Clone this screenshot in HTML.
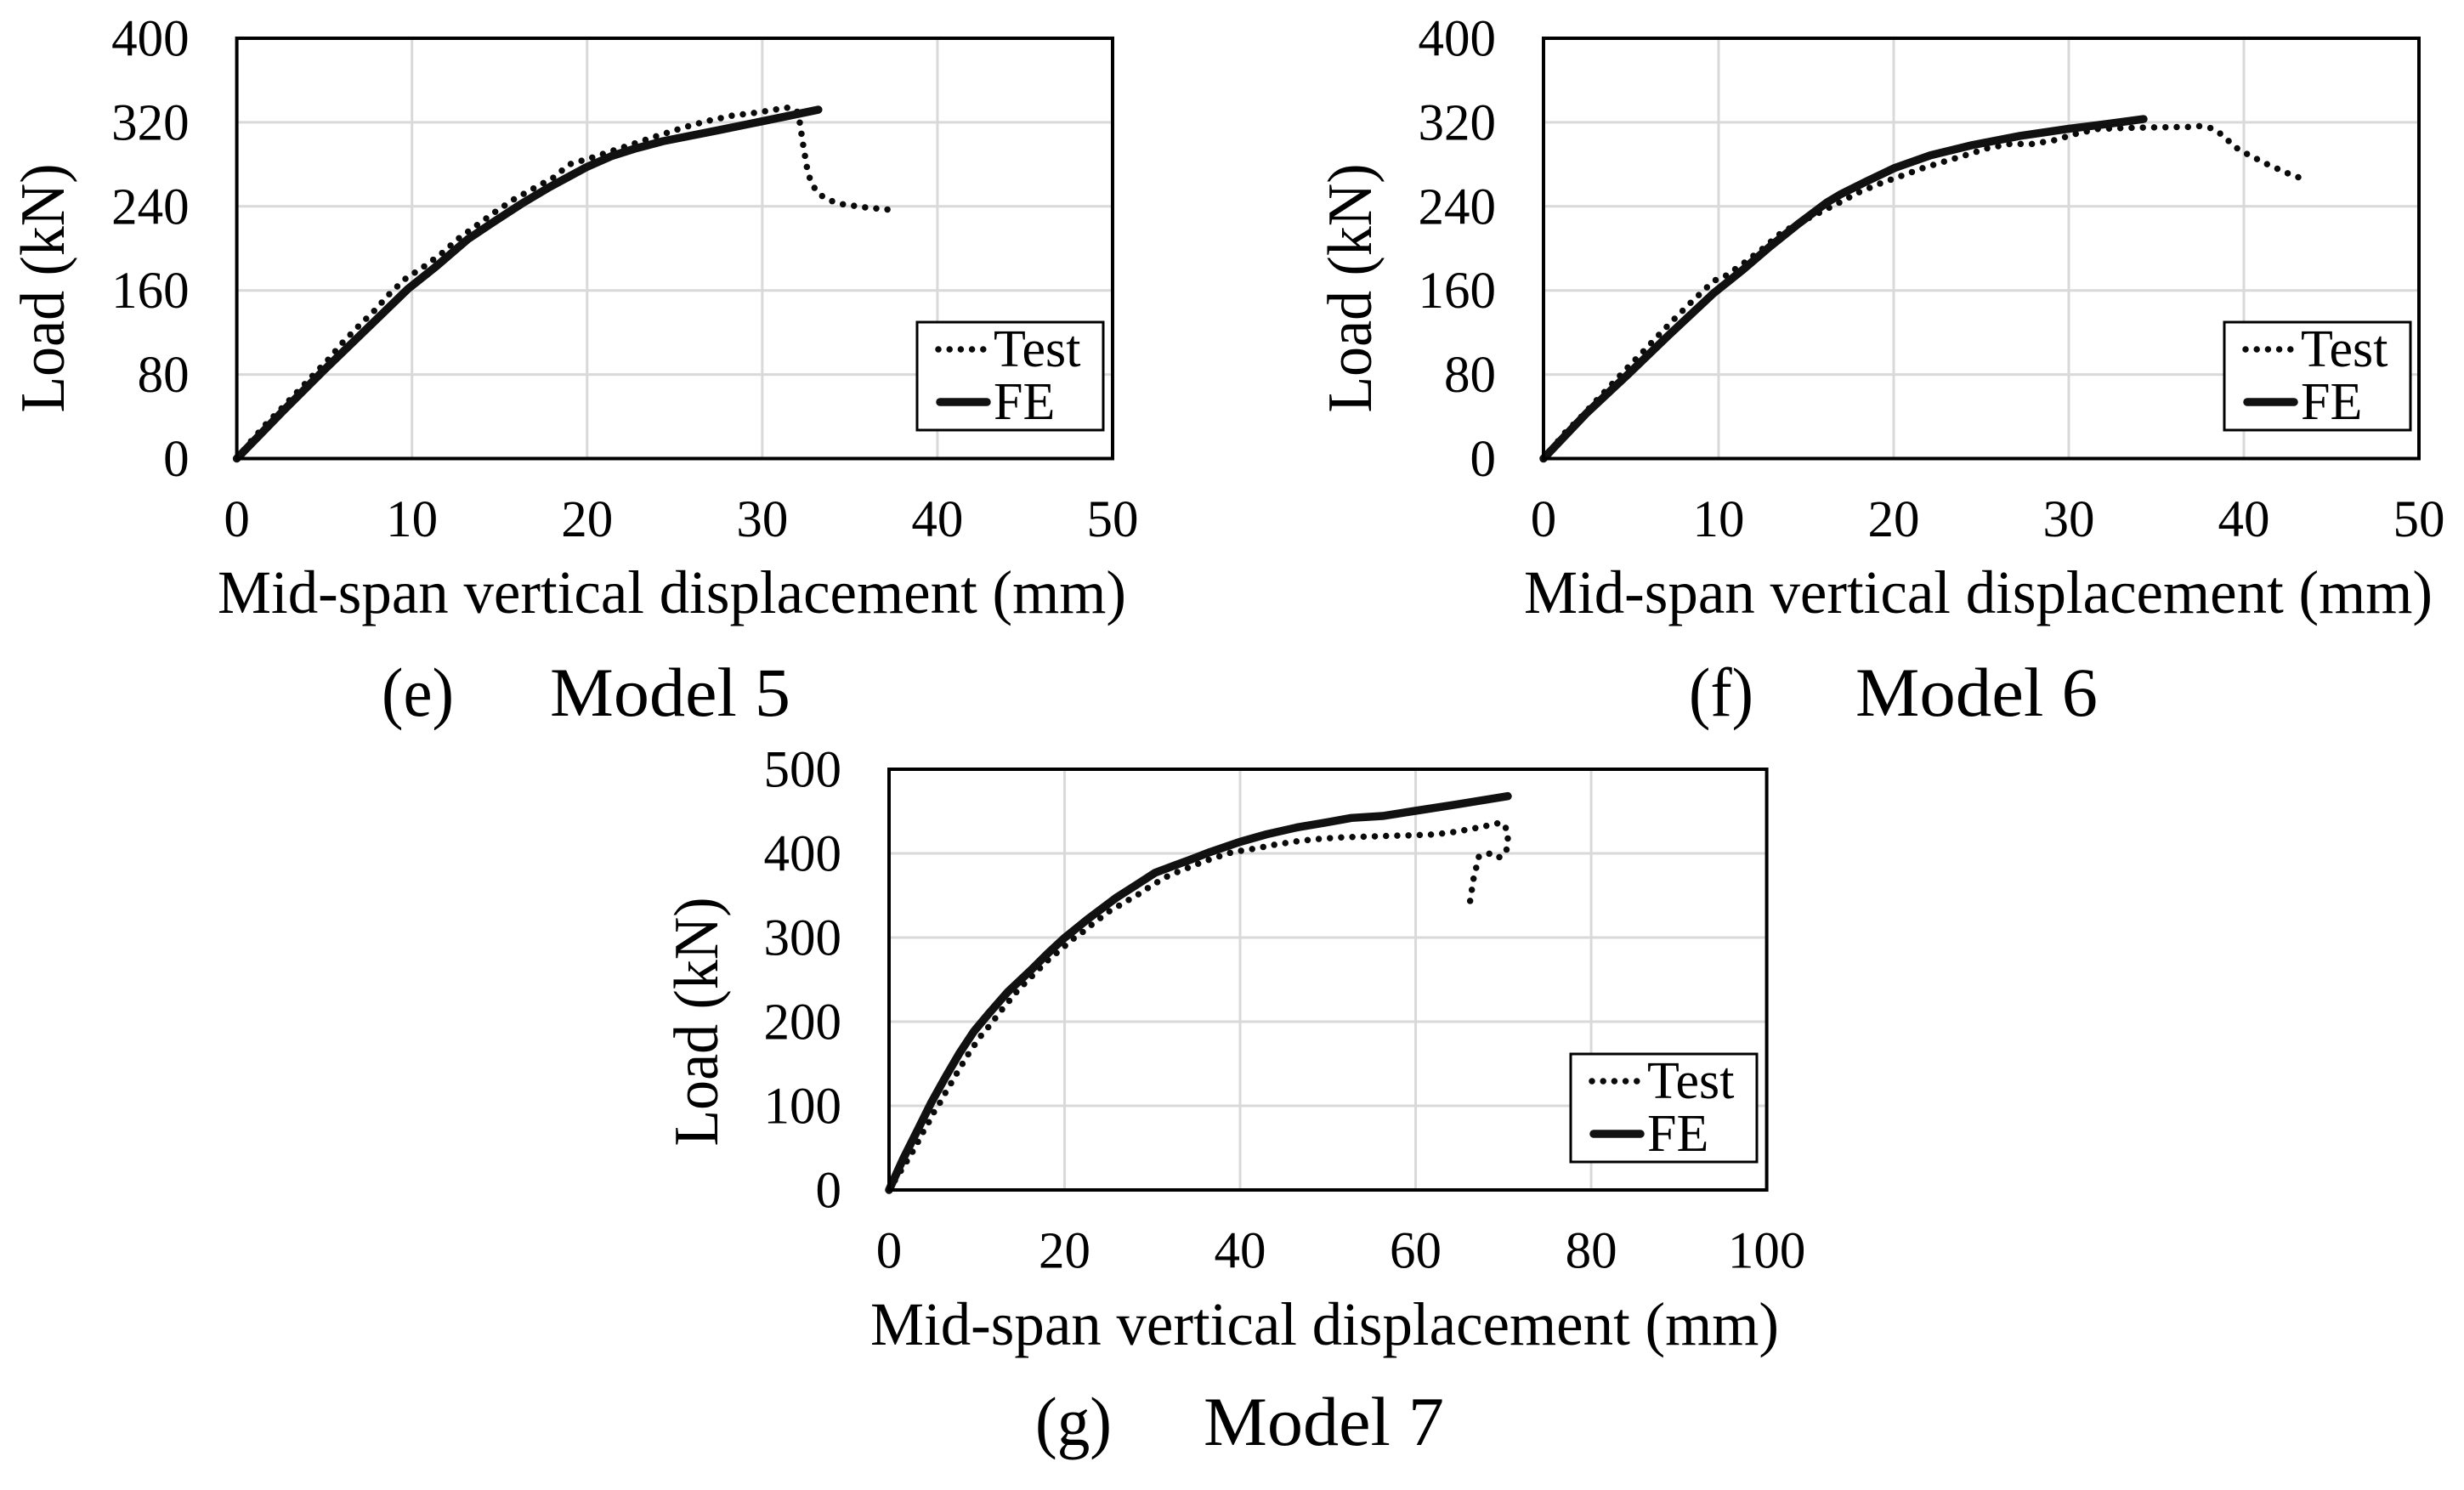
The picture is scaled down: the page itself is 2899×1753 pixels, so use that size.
<!DOCTYPE html>
<html lang="en">
<head>
<meta charset="utf-8">
<title>Load-displacement charts, Models 5 to 7</title>
<style>
html,body{margin:0;padding:0;background:#fff;}
svg{display:block;}
text{font-family:"Liberation Serif",serif;fill:#000;}
.tick{font-size:61px;}
.axis-x{font-size:72px;}
.axis-y{font-size:74px;text-anchor:middle;}
.legend-text{font-size:62px;}
.caption{font-size:82px;}
.frame{fill:none;stroke:#000;stroke-width:4;}
.legend-box{fill:#fff;stroke:#000;stroke-width:3;}
.test{fill:none;stroke:#0a0a0a;stroke-width:7.5;stroke-linecap:round;stroke-linejoin:round;stroke-dasharray:0 13.2;}
.fe{fill:none;stroke:#111;stroke-width:9.5;stroke-linecap:round;stroke-linejoin:round;}
.grid{stroke:#d9d9d9;stroke-width:3;}
</style>
</head>
<body>
<svg xmlns="http://www.w3.org/2000/svg" width="2899" height="1753" viewBox="0 0 2899 1753">

<g>
  <g id="m5-grid"></g>
  <g id="m5-series"></g>
  <rect class="frame" x="278.6" y="45" width="1030.4" height="494.5"/>
  <g id="m5-ticks"></g>
  <text class="axis-y" transform="translate(75,339) rotate(-90)" textLength="293" lengthAdjust="spacingAndGlyphs">Load (kN)</text>
  <text class="axis-x" x="256" y="721" textLength="1069" lengthAdjust="spacingAndGlyphs">Mid-span vertical displacement (mm)</text>
  <g>
    <rect class="legend-box" x="1079" y="379" width="219" height="127"/>
    <line class="test" x1="1104" y1="411" x2="1163" y2="411"/>
    <text class="legend-text" x="1169" y="431">Test</text>
    <line class="fe" x1="1106" y1="473" x2="1161" y2="473"/>
    <text class="legend-text" x="1169" y="493">FE</text>
  </g>
  <text class="caption" x="449" y="842" textLength="85" lengthAdjust="spacingAndGlyphs">(e)</text>
  <text class="caption" x="647" y="842" textLength="283" lengthAdjust="spacingAndGlyphs">Model 5</text>
</g>

<g>
  <g id="m6-grid"></g>
  <g id="m6-series"></g>
  <rect class="frame" x="1816" y="45" width="1030" height="494.5"/>
  <g id="m6-ticks"></g>
  <text class="axis-y" transform="translate(1613,339) rotate(-90)" textLength="293" lengthAdjust="spacingAndGlyphs">Load (kN)</text>
  <text class="axis-x" x="1793" y="721" textLength="1069" lengthAdjust="spacingAndGlyphs">Mid-span vertical displacement (mm)</text>
  <g>
    <rect class="legend-box" x="2617" y="379" width="219" height="127"/>
    <line class="test" x1="2642" y1="411" x2="2701" y2="411"/>
    <text class="legend-text" x="2707" y="431">Test</text>
    <line class="fe" x1="2644" y1="473" x2="2699" y2="473"/>
    <text class="legend-text" x="2707" y="493">FE</text>
  </g>
  <text class="caption" x="1987" y="842" textLength="76" lengthAdjust="spacingAndGlyphs">(f)</text>
  <text class="caption" x="2183" y="842" textLength="285" lengthAdjust="spacingAndGlyphs">Model 6</text>
</g>

<g>
  <g id="m7-grid"></g>
  <g id="m7-series"></g>
  <rect class="frame" x="1046" y="905" width="1032.6" height="495"/>
  <g id="m7-ticks"></g>
  <text class="axis-y" transform="translate(844,1202) rotate(-90)" textLength="293" lengthAdjust="spacingAndGlyphs">Load (kN)</text>
  <text class="axis-x" x="1024" y="1582" textLength="1069" lengthAdjust="spacingAndGlyphs">Mid-span vertical displacement (mm)</text>
  <g>
    <rect class="legend-box" x="1848" y="1240" width="219" height="127"/>
    <line class="test" x1="1873" y1="1272" x2="1932" y2="1272"/>
    <text class="legend-text" x="1938" y="1292">Test</text>
    <line class="fe" x1="1875" y1="1334" x2="1930" y2="1334"/>
    <text class="legend-text" x="1938" y="1354">FE</text>
  </g>
  <text class="caption" x="1218" y="1700" textLength="90" lengthAdjust="spacingAndGlyphs">(g)</text>
  <text class="caption" x="1416" y="1700" textLength="283" lengthAdjust="spacingAndGlyphs">Model 7</text>
</g>
</svg>

<script>
const m5XTicks = [0, 10, 20, 30, 40, 50];
const m5YTicks = [0, 80, 160, 240, 320, 400];
const m5TestX = [0, 0.8, 1.65, 2.57, 3.43, 4.3, 5.21, 6.02, 6.92, 7.83, 8.68, 9.6, 10.66, 11.68, 12.65, 13.7, 14.75, 15.84, 16.93, 18.07, 18.99, 20.24, 21.47, 22.68, 23.89, 25.5, 26.8, 28.3, 29.8, 31.4, 31.98, 32.14, 32.33, 32.54, 32.71, 32.98, 33.4, 33.98, 34.6, 35.9, 37.17];
const m5TestY = [0, 16.3, 32.5, 48, 63, 78.3, 94, 110, 125.5, 140.3, 156, 170.8, 182.4, 195, 209.3, 222, 234.7, 246.9, 257, 267.3, 280, 286.2, 293, 299.7, 306.4, 315, 321, 326.4, 329.5, 334, 331, 320, 299, 278, 267, 257.6, 250, 245, 242, 239, 237];
const m5FeX = [0, 2.65, 4.92, 7.18, 9.77, 11.39, 13.17, 14.62, 16.24, 17.86, 19.96, 21.42, 22.7, 24.33, 27.5, 30, 33.2];
const m5FeY = [0, 45.4, 83.2, 119.6, 161.4, 183, 208.5, 224.7, 242.3, 258.4, 277.3, 288, 294.8, 302, 312.5, 321, 332];

const m6XTicks = [0, 10, 20, 30, 40, 50];
const m6YTicks = [0, 80, 160, 240, 320, 400];
const m6TestX = [0, 1.26, 2.14, 3.03, 3.92, 4.81, 5.7, 6.59, 7.48, 8.4, 9.34, 9.84, 10.44, 11.47, 12.51, 13.51, 14.56, 15.78, 16.9, 18.04, 19.26, 20.47, 21.68, 22.9, 24.14, 25.38, 26.64, 27.9, 29.16, 30.41, 31.67, 32.96, 34.24, 35.53, 36.83, 37.47, 38.12, 38.67, 39.16, 39.65, 40.2, 41.35, 42.52, 43.13];
const m6TestY = [0, 25.2, 39.5, 55.4, 71, 86.7, 102, 117.7, 133, 148.2, 163, 170, 174.3, 186.4, 199.6, 213.9, 224, 234.2, 243.6, 253.6, 262, 269.2, 276.5, 282.7, 288.9, 295.4, 299.4, 299.4, 302.9, 309.1, 313.7, 314.5, 315, 315.3, 315.6, 316.4, 314.5, 309.1, 301.8, 294.8, 289.7, 280, 271.4, 267.6];
const m6FeX = [0, 2.43, 4.85, 7.12, 9.71, 11.33, 12.94, 14.56, 16.18, 16.99, 18.45, 20.06, 22.1, 24.48, 27.2, 29.93, 32.14, 34.27];
const m6FeY = [0, 42.7, 80.5, 116.9, 157.3, 178.9, 201.8, 223.4, 243.6, 251.7, 263.8, 276.6, 288.6, 298.3, 307, 313.7, 318.3, 323.1];

const m7XTicks = [0, 20, 40, 60, 80, 100];
const m7YTicks = [0, 100, 200, 300, 400, 500];
const m7TestX = [0, 2.1, 2.74, 3.39, 3.94, 4.58, 5.17, 5.88, 6.49, 7.13, 7.78, 8.46, 9.1, 9.85, 10.56, 11.4, 12.2, 13.01, 13.85, 14.69, 18, 21.14, 22.27, 23.24, 25.28, 26.4, 27.54, 28.6, 29.7, 30.76, 31.89, 33.09, 34.31, 35.5, 36.7, 39.1, 41.67, 44.2, 46.78, 49.33, 51.88, 54.46, 57.04, 59.62, 62.2, 64.8, 67.3, 69.8, 70.5, 70.5, 70.3, 69.4, 68.3, 67.2, 66.9, 66.6, 66.2];
const m7TestY = [0, 35.4, 46.5, 58.9, 70, 81.5, 93.6, 105, 116.8, 127.9, 139.7, 151.5, 162.6, 174, 184.5, 194.6, 205.4, 216.2, 226.6, 237.4, 272, 299.7, 308, 316.5, 332.6, 339, 346.1, 352.5, 360.3, 367, 373.7, 378.8, 383.8, 388.9, 393.3, 401.4, 405.7, 410.8, 414.8, 417.5, 419.2, 419.9, 420.9, 421.5, 422.5, 426, 431, 436.7, 427, 414, 400.7, 394.6, 400, 396, 383, 370, 343];
const m7FeX = [0, 1.61, 3.23, 4.84, 6.46, 8.07, 9.68, 11.3, 13.56, 16.14, 18.08, 20.01, 22.6, 25.82, 28.08, 30.34, 32.5, 34.28, 36.54, 39.93, 43, 46.55, 49.78, 52.68, 56.24, 59.95, 64.6, 70.5];
const m7FeY = [0, 37, 70.7, 104.4, 134.7, 163.3, 188.6, 208.8, 235.7, 261, 281.1, 299.7, 321.5, 346.8, 361.9, 377.1, 385.5, 392.3, 401.4, 413.5, 422.6, 431, 436.7, 442.1, 444.4, 450.5, 458, 468];

const SVG_NS = 'http://www.w3.org/2000/svg';

function makeScale(pixelStart, pixelEnd, domainMax) {
  return function (value) {
    return pixelStart + (value / domainMax) * (pixelEnd - pixelStart);
  };
}

function pointsOf(xs, ys, xAxis, yAxis) {
  return xs.map(function (x, i) {
    return xAxis(x).toFixed(2) + ',' + yAxis(ys[i]).toFixed(2);
  }).join(' ');
}

function drawChart(prefix, left, right, top, bottom, xTicks, yTicks, testX, testY, feX, feY) {
  const xMax = xTicks[xTicks.length - 1];
  const yMax = yTicks[yTicks.length - 1];
  const xAxis = makeScale(left, right, xMax);
  const yAxis = makeScale(bottom, top, yMax);
  const gridGroup = document.getElementById(prefix + '-grid');
  const tickGroup = document.getElementById(prefix + '-ticks');
  const seriesGroup = document.getElementById(prefix + '-series');

  xTicks.forEach(function (tick) {
    if (tick !== 0 && tick !== xMax) {
      const line = document.createElementNS(SVG_NS, 'line');
      line.setAttribute('class', 'grid');
      line.setAttribute('x1', xAxis(tick));
      line.setAttribute('x2', xAxis(tick));
      line.setAttribute('y1', top);
      line.setAttribute('y2', bottom);
      
      
      gridGroup.appendChild(line);
    }
    const label = document.createElementNS(SVG_NS, 'text');
    label.setAttribute('class', 'tick');
    label.setAttribute('text-anchor', 'middle');
    label.setAttribute('x', xAxis(tick));
    label.setAttribute('y', bottom + 91.5);
    label.textContent = String(tick);
    
    
    tickGroup.appendChild(label);
  });

  yTicks.forEach(function (tick) {
    if (tick !== 0 && tick !== yMax) {
      const line = document.createElementNS(SVG_NS, 'line');
      line.setAttribute('class', 'grid');
      line.setAttribute('x1', left);
      line.setAttribute('x2', right);
      line.setAttribute('y1', yAxis(tick));
      line.setAttribute('y2', yAxis(tick));
      
      
      gridGroup.appendChild(line);
    }
    const label = document.createElementNS(SVG_NS, 'text');
    label.setAttribute('class', 'tick');
    label.setAttribute('text-anchor', 'end');
    label.setAttribute('x', left - 56);
    label.setAttribute('y', yAxis(tick) + 20.5);
    label.textContent = String(tick);
    
    
    tickGroup.appendChild(label);
  });

  const testLine = document.createElementNS(SVG_NS, 'polyline');
  testLine.setAttribute('class', 'test');
  testLine.setAttribute('points', pointsOf(testX, testY, xAxis, yAxis));
  
  
  seriesGroup.appendChild(testLine);
  const testLength = testLine.getTotalLength();
  const dotGap = (testLength / Math.round(testLength / 13.2)) * 0.9995;
  testLine.style.strokeDasharray = '0 ' + dotGap;

  const feLine = document.createElementNS(SVG_NS, 'polyline');
  feLine.setAttribute('class', 'fe');
  feLine.setAttribute('points', pointsOf(feX, feY, xAxis, yAxis));
  
  
  seriesGroup.appendChild(feLine);
}

drawChart('m5', 278.6, 1309, 45, 539.5, m5XTicks, m5YTicks, m5TestX, m5TestY, m5FeX, m5FeY);
drawChart('m6', 1816, 2846, 45, 539.5, m6XTicks, m6YTicks, m6TestX, m6TestY, m6FeX, m6FeY);
drawChart('m7', 1046, 2078.6, 905, 1400, m7XTicks, m7YTicks, m7TestX, m7TestY, m7FeX, m7FeY);
</script>
</body>
</html>
